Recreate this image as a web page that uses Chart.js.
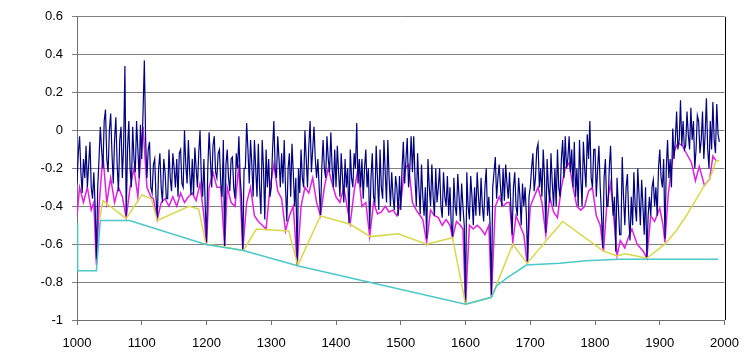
<!DOCTYPE html>
<html>
<head>
<meta charset="utf-8">
<script src="https://cdn.jsdelivr.net/npm/chart.js@4.4.0/dist/chart.umd.min.js"></script>
<style>
  body { margin: 0; background: #fff; }
  canvas { display: block; }
</style>
</head>
<body>
<canvas id="chart" width="750" height="356"></canvas>
<script>
// reconstruction, one value every 2 years (one row = 20 years)
const navyYears = [
  1000, 1002, 1004, 1006, 1008, 1010, 1012, 1014, 1016, 1018,
  1020, 1022, 1024, 1026, 1028, 1030, 1032, 1034, 1036, 1038,
  1040, 1042, 1044, 1046, 1048, 1050, 1052, 1054, 1056, 1058,
  1060, 1062, 1064, 1066, 1068, 1070, 1072, 1074, 1076, 1078,
  1080, 1082, 1084, 1086, 1088, 1090, 1092, 1094, 1096, 1098,
  1100, 1102, 1104, 1106, 1108, 1110, 1112, 1114, 1116, 1118,
  1120, 1122, 1124, 1126, 1128, 1130, 1132, 1134, 1136, 1138,
  1140, 1142, 1144, 1146, 1148, 1150, 1152, 1154, 1156, 1158,
  1160, 1162, 1164, 1166, 1168, 1170, 1172, 1174, 1176, 1178,
  1180, 1182, 1184, 1186, 1188, 1190, 1192, 1194, 1196, 1198,
  1200, 1202, 1204, 1206, 1208, 1210, 1212, 1214, 1216, 1218,
  1220, 1222, 1224, 1226, 1228, 1230, 1232, 1234, 1236, 1238,
  1240, 1242, 1244, 1246, 1248, 1250, 1252, 1254, 1256, 1258,
  1260, 1262, 1264, 1266, 1268, 1270, 1272, 1274, 1276, 1278,
  1280, 1282, 1284, 1286, 1288, 1290, 1292, 1294, 1296, 1298,
  1300, 1302, 1304, 1306, 1308, 1310, 1312, 1314, 1316, 1318,
  1320, 1322, 1324, 1326, 1328, 1330, 1332, 1334, 1336, 1338,
  1340, 1342, 1344, 1346, 1348, 1350, 1352, 1354, 1356, 1358,
  1360, 1362, 1364, 1366, 1368, 1370, 1372, 1374, 1376, 1378,
  1380, 1382, 1384, 1386, 1388, 1390, 1392, 1394, 1396, 1398,
  1400, 1402, 1404, 1406, 1408, 1410, 1412, 1414, 1416, 1418,
  1420, 1422, 1424, 1426, 1428, 1430, 1432, 1434, 1436, 1438,
  1440, 1442, 1444, 1446, 1448, 1450, 1452, 1454, 1456, 1458,
  1460, 1462, 1464, 1466, 1468, 1470, 1472, 1474, 1476, 1478,
  1480, 1482, 1484, 1486, 1488, 1490, 1492, 1494, 1496, 1498,
  1500, 1502, 1504, 1506, 1508, 1510, 1512, 1514, 1516, 1518,
  1520, 1522, 1524, 1526, 1528, 1530, 1532, 1534, 1536, 1538,
  1540, 1542, 1544, 1546, 1548, 1550, 1552, 1554, 1556, 1558,
  1560, 1562, 1564, 1566, 1568, 1570, 1572, 1574, 1576, 1578,
  1580, 1582, 1584, 1586, 1588, 1590, 1592, 1594, 1596, 1598,
  1600, 1602, 1604, 1606, 1608, 1610, 1612, 1614, 1616, 1618,
  1620, 1622, 1624, 1626, 1628, 1630, 1632, 1634, 1636, 1638,
  1640, 1642, 1644, 1646, 1648, 1650, 1652, 1654, 1656, 1658,
  1660, 1662, 1664, 1666, 1668, 1670, 1672, 1674, 1676, 1678,
  1680, 1682, 1684, 1686, 1688, 1690, 1692, 1694, 1696, 1698,
  1700, 1702, 1704, 1706, 1708, 1710, 1712, 1714, 1716, 1718,
  1720, 1722, 1724, 1726, 1728, 1730, 1732, 1734, 1736, 1738,
  1740, 1742, 1744, 1746, 1748, 1750, 1752, 1754, 1756, 1758,
  1760, 1762, 1764, 1766, 1768, 1770, 1772, 1774, 1776, 1778,
  1780, 1782, 1784, 1786, 1788, 1790, 1792, 1794, 1796, 1798,
  1800, 1802, 1804, 1806, 1808, 1810, 1812, 1814, 1816, 1818,
  1820, 1822, 1824, 1826, 1828, 1830, 1832, 1834, 1836, 1838,
  1840, 1842, 1844, 1846, 1848, 1850, 1852, 1854, 1856, 1858,
  1860, 1862, 1864, 1866, 1868, 1870, 1872, 1874, 1876, 1878,
  1880, 1882, 1884, 1886, 1888, 1890, 1892, 1894, 1896, 1898,
  1900, 1902, 1904, 1906, 1908, 1910, 1912, 1914, 1916, 1918,
  1920, 1922, 1924, 1926, 1928, 1930, 1932, 1934, 1936, 1938,
  1940, 1942, 1944, 1946, 1948, 1950, 1952, 1954, 1956, 1958,
  1960, 1962, 1964, 1966, 1968, 1970, 1972, 1974, 1976, 1978,
  1980, 1982, 1984, 1986, 1988, 1990, 1992
];
const navyVals = [
  -0.28, -0.12, -0.03, -0.22, -0.33, -0.15, -0.25, -0.08, -0.30, -0.18,
  -0.06, -0.30, -0.36, -0.22, -0.40, -0.68, -0.30, -0.15, 0.02, -0.10,
  -0.20, 0.05, 0.11, -0.15, -0.22, 0.00, 0.09, -0.12, -0.28, -0.05,
  0.07, -0.18, -0.32, -0.05, 0.02, -0.25, -0.08, 0.34, -0.45, -0.10,
  0.05, -0.20, -0.30, 0.02, -0.15, -0.22, 0.05, -0.10, -0.25, 0.03,
  -0.15, 0.10, 0.37, -0.05, -0.25, -0.10, -0.06, -0.30, -0.33, -0.18,
  -0.15, -0.35, -0.47, -0.20, -0.12, -0.30, -0.38, -0.15, -0.22, -0.36,
  -0.36, -0.10, -0.25, -0.32, -0.12, -0.20, -0.30, -0.15, -0.35, -0.12,
  -0.10, -0.28, -0.30, 0.00, -0.18, -0.28, -0.05, -0.22, -0.34, -0.15,
  -0.34, -0.09, -0.20, -0.30, -0.12, 0.00, -0.25, -0.35, -0.15, -0.40,
  -0.59, -0.20, -0.01, -0.15, -0.30, -0.08, -0.03, -0.22, -0.25, -0.12,
  -0.10, -0.28, -0.35, -0.05, -0.61, -0.18, -0.10, -0.25, -0.32, -0.15,
  -0.14, -0.30, -0.36, -0.12, -0.20, -0.03, -0.25, -0.35, -0.63, -0.20,
  -0.20, 0.04, -0.10, -0.28, -0.05, -0.18, -0.35, -0.05, -0.20, -0.35,
  -0.07, -0.30, -0.44, -0.05, -0.20, -0.47, -0.10, -0.30, -0.15, -0.35,
  -0.30, -0.10, 0.05, -0.20, -0.25, -0.03, -0.15, -0.30, -0.12, -0.28,
  -0.05, -0.30, -0.48, -0.20, -0.12, -0.35, -0.07, -0.22, -0.40, -0.25,
  -0.71, -0.20, -0.33, -0.10, -0.25, -0.30, 0.00, -0.15, -0.30, -0.08,
  0.05, -0.22, -0.10, 0.02, -0.15, -0.25, -0.15, -0.30, -0.45, -0.20,
  -0.05, -0.20, -0.25, -0.03, -0.15, -0.22, -0.01, -0.20, -0.30, -0.10,
  -0.30, -0.08, -0.22, -0.35, -0.12, -0.25, -0.38, -0.15, -0.30, -0.20,
  -0.49, -0.10, -0.25, -0.30, -0.12, -0.20, 0.04, -0.28, -0.15, -0.30,
  -0.15, -0.36, -0.20, -0.10, -0.30, -0.20, -0.52, -0.25, -0.12, -0.35,
  -0.38, -0.08, -0.25, -0.42, -0.10, -0.30, -0.36, -0.05, -0.22, -0.38,
  -0.05, -0.25, -0.40, -0.22, -0.35, -0.42, -0.24, -0.30, -0.45, -0.24,
  -0.42, -0.20, -0.06, -0.28, -0.15, -0.04, -0.30, -0.20, -0.03, -0.22,
  -0.03, -0.25, -0.40, -0.12, -0.30, -0.44, -0.18, -0.35, -0.45, -0.30,
  -0.57, -0.15, -0.30, -0.40, -0.18, -0.35, -0.45, -0.20, -0.38, -0.30,
  -0.20, -0.40, -0.46, -0.22, -0.35, -0.40, -0.24, -0.45, -0.30, -0.50,
  -0.56, -0.25, -0.40, -0.45, -0.23, -0.35, -0.48, -0.28, -0.40, -0.50,
  -0.915, -0.22, -0.40, -0.47, -0.24, -0.35, -0.50, -0.30, -0.45, -0.22,
  -0.35, -0.45, -0.25, -0.40, -0.48, -0.30, -0.20, -0.45, -0.35, -0.50,
  -0.87, -0.30, -0.22, -0.14, -0.36, -0.25, -0.18, -0.30, -0.40, -0.20,
  -0.37, -0.18, -0.28, -0.36, -0.22, -0.40, -0.55, -0.30, -0.22, -0.40,
  -0.45, -0.25, -0.35, -0.50, -0.28, -0.40, -0.30, -0.45, -0.70, -0.35,
  -0.30, -0.20, -0.12, -0.32, -0.25, -0.10, -0.07, -0.30, -0.20, -0.35,
  -0.10, -0.25, -0.54, -0.15, -0.30, -0.38, -0.12, -0.28, -0.40, -0.20,
  -0.40, -0.10, -0.30, -0.35, -0.15, -0.05, -0.25, -0.03, -0.20, -0.15,
  -0.03, -0.22, -0.10, -0.30, -0.06, -0.35, -0.20, -0.40, -0.05, -0.25,
  -0.40, -0.06, -0.20, -0.30, -0.02, -0.15, 0.05, -0.25, -0.30, -0.10,
  -0.10, -0.35, -0.20, -0.08, -0.30, -0.45, -0.62, -0.25, -0.15, -0.40,
  -0.40, -0.20, -0.08, -0.30, -0.45, -0.35, -0.64, -0.25, -0.40, -0.55,
  -0.55, -0.14, -0.35, -0.50, -0.30, -0.23, -0.45, -0.58, -0.35, -0.50,
  -0.22, -0.40, -0.48, -0.20, -0.35, -0.50, -0.26, -0.40, -0.55, -0.30,
  -0.67, -0.45, -0.35, -0.45, -0.30, -0.26, -0.40, -0.30, -0.45, -0.20,
  -0.10, -0.25, -0.30, -0.15, -0.57, -0.20, -0.05, -0.25, -0.15, -0.30,
  0.01, -0.15, -0.05, 0.10, -0.10, -0.05, 0.16, -0.08, 0.05, -0.10,
  -0.08, 0.10, -0.02, -0.10, 0.12, -0.05, 0.05, -0.20, -0.10, 0.08,
  0.05, -0.12, -0.05, 0.10, -0.15, -0.02, 0.17, -0.10, -0.20, 0.05,
  -0.10, 0.15, -0.05, -0.12, 0.14, -0.02, -0.06
];

// lower (magenta) series
const pinkYears = [
  1000, 1004, 1010, 1016, 1022, 1026, 1030, 1034, 1040, 1046,
  1052, 1058, 1064, 1070, 1076, 1082, 1088, 1094, 1102, 1108,
  1114, 1118, 1124, 1130, 1136, 1142, 1148, 1154, 1160, 1166,
  1172, 1178, 1184, 1190, 1196, 1200, 1204, 1210, 1216, 1222,
  1228, 1232, 1238, 1244, 1250, 1256, 1262, 1268, 1274, 1280,
  1286, 1292, 1298, 1304, 1310, 1316, 1322, 1328, 1334, 1340,
  1346, 1352, 1358, 1364, 1370, 1376, 1382, 1388, 1394, 1400,
  1406, 1412, 1418, 1422, 1428, 1434, 1440, 1446, 1452, 1458,
  1464, 1470, 1476, 1482, 1488, 1494, 1500, 1506, 1512, 1518,
  1524, 1530, 1534, 1540, 1546, 1552, 1558, 1564, 1570, 1576,
  1580, 1586, 1592, 1596, 1600, 1606, 1612, 1618, 1624, 1630,
  1636, 1640, 1646, 1652, 1658, 1664, 1668, 1673, 1678, 1684,
  1690, 1695, 1700, 1706, 1712, 1718, 1724, 1730, 1736, 1742,
  1748, 1754, 1760, 1766, 1772, 1778, 1784, 1790, 1796, 1802,
  1808, 1813, 1818, 1824, 1830, 1834, 1839, 1846, 1852, 1857,
  1865, 1875, 1880, 1886, 1892, 1900, 1905, 1908, 1913, 1921,
  1928, 1935, 1941, 1949, 1955, 1961, 1969, 1977, 1982, 1987
];
const pinkVals = [
  -0.45, -0.30, -0.38, -0.30, -0.42, -0.38, -0.71, -0.40, -0.13, -0.38,
  -0.25, -0.38, -0.30, -0.35, -0.46, -0.30, -0.20, -0.35, 0.02, -0.30,
  -0.35, -0.36, -0.47, -0.38, -0.36, -0.40, -0.35, -0.40, -0.33, -0.38,
  -0.35, -0.33, -0.37, -0.28, -0.45, -0.60, -0.30, -0.22, -0.30, -0.30,
  -0.61, -0.30, -0.38, -0.40, -0.18, -0.63, -0.38, -0.30, -0.45, -0.48,
  -0.50, -0.52, -0.30, -0.18, -0.32, -0.36, -0.53, -0.45, -0.40, -0.71,
  -0.40, -0.30, -0.33, -0.25, -0.38, -0.45, -0.30, -0.20, -0.28, -0.35,
  -0.38, -0.30, -0.42, -0.49, -0.32, -0.20, -0.40, -0.38, -0.56, -0.38,
  -0.44, -0.43, -0.40, -0.43, -0.42, -0.45, -0.38, -0.20, -0.18, -0.38,
  -0.42, -0.45, -0.47, -0.59, -0.42, -0.45, -0.46, -0.50, -0.47, -0.50,
  -0.565, -0.48, -0.50, -0.52, -0.92, -0.50, -0.52, -0.50, -0.52, -0.55,
  -0.50, -0.88, -0.40, -0.35, -0.40, -0.38, -0.38, -0.59, -0.45, -0.50,
  -0.55, -0.70, -0.40, -0.35, -0.30, -0.38, -0.55, -0.35, -0.43, -0.46,
  -0.30, -0.20, -0.17, -0.30, -0.40, -0.42, -0.40, -0.32, -0.30, -0.45,
  -0.50, -0.64, -0.40, -0.28, -0.50, -0.66, -0.58, -0.62, -0.56, -0.52,
  -0.60, -0.64, -0.675, -0.45, -0.48, -0.41, -0.50, -0.59, -0.34, -0.12,
  -0.065, -0.08, -0.12, -0.17, -0.265, -0.19, -0.29, -0.256, -0.135, -0.16
];

// lower hull (yellow)
const hullYears = [
  1035, 1040, 1076, 1100, 1115, 1124, 1173, 1188, 1199, 1228,
  1257, 1277, 1327, 1341, 1376, 1422, 1453, 1496, 1540, 1580,
  1600, 1640, 1673, 1695, 1750, 1813, 1834, 1847, 1880, 1908,
  1925, 1941, 1955, 1969, 1977, 1982, 1987, 1992
];
const hullVals = [
  -0.47, -0.37, -0.465, -0.34, -0.36, -0.475, -0.40, -0.415, -0.60, -0.615,
  -0.633, -0.52, -0.53, -0.712, -0.45, -0.495, -0.56, -0.545, -0.60, -0.566,
  -0.917, -0.88, -0.60, -0.70, -0.48, -0.636, -0.662, -0.65, -0.674, -0.60,
  -0.53, -0.45, -0.37, -0.29, -0.255, -0.21, -0.16, -0.16
];

// running floor (cyan)
const floorYears = [
  1000, 1001, 1030, 1036, 1081, 1199, 1257, 1342, 1600, 1640,
  1648, 1663, 1694, 1745, 1786, 1837, 1990
];
const floorVals = [
  -0.49, -0.74, -0.74, -0.475, -0.475, -0.602, -0.633, -0.715, -0.917, -0.88,
  -0.82, -0.78, -0.71, -0.70, -0.687, -0.68, -0.68
];

const yMin = -1, yMax = 0.6, yStep = 0.2;
const xMin = 1000, xMax = 2000, xStep = 100;

function pts(xs, ys) {
  return xs.map((x, i) => ({ x: x, y: ys[i] }));
}

Chart.defaults.font.family = "'Liberation Sans', Arial, sans-serif";
Chart.defaults.font.size = 13;
Chart.defaults.color = '#000';

const rightBorder = {
  id: 'rightBorder',
  afterDraw(chart) {
    const a = chart.chartArea, c = chart.ctx;
    c.save();
    c.strokeStyle = '#000';
    c.lineWidth = 1;
    c.beginPath();
    c.moveTo(Math.round(a.right) + 0.5, a.top);
    c.lineTo(Math.round(a.right) + 0.5, a.bottom);
    c.stroke();
    c.restore();
  }
};

new Chart(document.getElementById('chart'), {
  type: 'line',
  data: {
    datasets: [
      { data: pts(floorYears, floorVals), borderColor: '#4cc8c8', borderWidth: 1.5, order: 0 },
      { data: pts(hullYears, hullVals), borderColor: '#d8d84a', borderWidth: 1.5, order: 1 },
      { data: pts(navyYears, navyVals), borderColor: '#000080', borderWidth: 1.2, order: 2 },
      { data: pts(pinkYears, pinkVals), borderColor: '#e020e0', borderWidth: 1.5, order: 3 }
    ]
  },
  options: {
    responsive: false,
    animation: false,
    elements: { point: { radius: 0 }, line: { tension: 0 } },
    layout: { padding: { top: 12, right: 20, left: 0, bottom: 0 } },
    plugins: { legend: { display: false }, tooltip: { enabled: false } },
    scales: {
      x: {
        type: 'linear',
        min: xMin, max: xMax,
        afterFit(s) { s.height = 36; },
        ticks: { stepSize: xStep, padding: 11, maxRotation: 0, callback: v => String(v) },
        grid: { drawOnChartArea: false, tickLength: 5, color: '#707070' },
        border: { color: '#707070' }
      },
      y: {
        min: yMin, max: yMax,
        afterFit(s) { s.width = 77; },
        ticks: { stepSize: yStep, padding: 9, callback: v => String(+v.toFixed(1)) },
        grid: { tickLength: 5, color: '#808080' },
        border: { color: '#707070' }
      }
    }
  },
  plugins: [rightBorder]
});
</script>
</body>
</html>
